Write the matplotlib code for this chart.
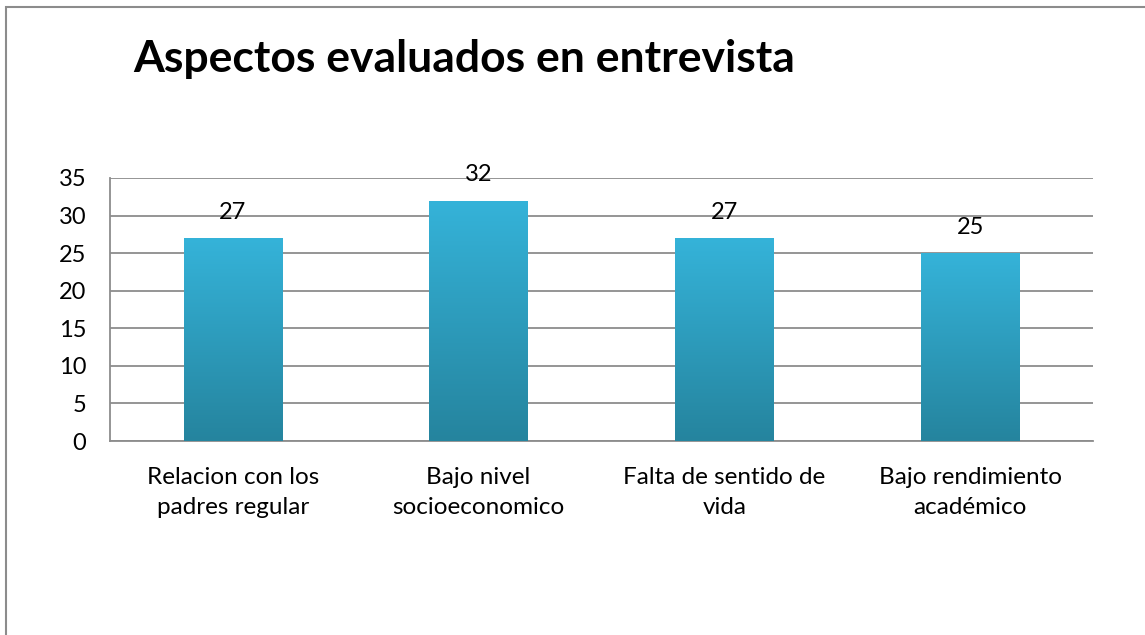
import numpy as np
import matplotlib.pyplot as plt
from matplotlib.patches import Rectangle
from matplotlib.colors import LinearSegmentedColormap

plt.rcParams['font.family'] = ['Lato', 'DejaVu Sans']

# data
categories = ['Relacion con los\npadres regular', 'Bajo nivel\nsocioeconomico',
              'Falta de sentido de\nvida', 'Bajo rendimiento\nacadémico']
values = [27, 32, 27, 25]
yticks = [0, 5, 10, 15, 20, 25, 30, 35]
title = 'Aspectos evaluados en entrevista'

W, H = 1145, 635
fig = plt.figure(figsize=(W / 100, H / 100), dpi=100)
ax = fig.add_axes([110 / W, 1 - 441 / H, (1093 - 110) / W, (441 - 178) / H])

grid_c = '#8c8c8c'
x = np.arange(len(values))
bars = ax.bar(x, values, width=0.40, color='none', edgecolor='none', zorder=3)

# vertical gradient for each bar
cmap = LinearSegmentedColormap.from_list('g', ['#25849e', '#35b3d9'])
grad = np.linspace(0, 1, 256).reshape(-1, 1)
for b in bars:
    x0, y0 = b.get_x(), b.get_y()
    im = ax.imshow(grad, cmap=cmap, aspect='auto', origin='lower',
                   extent=[x0, x0 + b.get_width(), y0, y0 + b.get_height()],
                   zorder=3)
    im.set_clip_path(b)

for xi, v in zip(x, values):
    ax.annotate(str(v), (xi, v), xytext=(0, 11), textcoords='offset points',
                ha='center', va='bottom', fontsize=17, zorder=4)

ax.set_xlim(-0.5, len(values) - 0.5)
ax.set_ylim(0, 35)
ax.set_yticks(yticks)
ax.set_xticks(x)
ax.set_xticklabels(categories, fontsize=17.5, linespacing=1.5)
ax.tick_params(axis='y', length=0, pad=17, labelsize=17)
ax.tick_params(axis='x', length=0, pad=19)
ax.yaxis.grid(True, color=grid_c, lw=1.3)
ax.set_axisbelow(True)
for s in ['top', 'right']:
    ax.spines[s].set_visible(False)
for s in ['left', 'bottom']:
    ax.spines[s].set_color(grid_c)
    ax.spines[s].set_linewidth(1.3)

fig.text(133 / W, 1 - 72 / H, title, fontsize=32, fontweight='bold',
         ha='left', va='baseline')

# chart border (cut off on the right and bottom)
fig.patches.append(Rectangle((6 / W, -0.1), 1.2, 1 - 7 / H + 0.1,
                             transform=fig.transFigure, fill=False,
                             edgecolor=grid_c, lw=1.5))

fig.savefig('out.png', dpi=100)
